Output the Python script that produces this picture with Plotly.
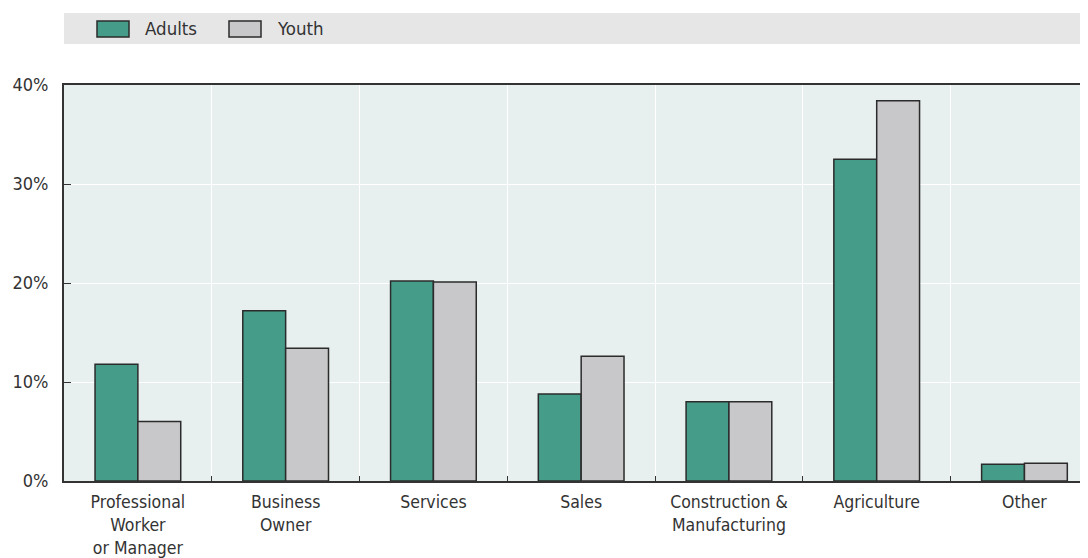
import plotly.graph_objects as go

categories = ["Professional<br>Worker<br>or Manager", "Business<br>Owner", "Services", "Sales",
              "Construction &<br>Manufacturing", "Agriculture", "Other"]
adults = [11.8, 17.2, 20.2, 8.8, 8.0, 32.5, 1.7]
youth = [6.0, 13.4, 20.1, 12.6, 8.0, 38.4, 1.8]
y_ticks = [0, 10, 20, 30, 40]
y_labels = ["0%", "10%", "20%", "30%", "40%"]

FONT = "DejaVu Sans Condensed, Liberation Sans Narrow, sans-serif"
ADULT_C = "#449C89"
YOUTH_C = "#C8C8CA"
EDGE = "#2b2b2b"

x = list(range(len(categories)))

fig = go.Figure()
fig.add_trace(go.Bar(x=x, y=adults, name="Adults", marker=dict(color=ADULT_C, line=dict(color=EDGE, width=1.5))))
fig.add_trace(go.Bar(x=x, y=youth, name="Youth", marker=dict(color=YOUTH_C, line=dict(color=EDGE, width=1.5))))

# page body has an 8px margin, so the figure is drawn 8px smaller and offset
fig.update_layout(
    width=1080, height=550,
    margin=dict(l=56, r=0, t=77, b=77, autoexpand=False),
    paper_bgcolor="white", plot_bgcolor="#E7F0EF",
    barmode="group", bargap=0.42, bargroupgap=0,
    showlegend=False,
    font=dict(family=FONT, size=18, color="#333333"),
)
fig.update_xaxes(
    range=[-0.5, 6.43], tickmode="array", tickvals=x, ticktext=categories,
    showgrid=False, ticks="", showline=True, linecolor="#333333", linewidth=2, mirror=True,
    minor=dict(tickmode="array", tickvals=[i + 0.5 for i in x[:-1]], showgrid=True,
               gridcolor="white", gridwidth=1, ticks="inside", ticklen=5, tickcolor="#333333"),
    zeroline=False, ticklabelstandoff=4, automargin=False,
    tickfont=dict(size=17.5),
)
fig.update_yaxes(
    range=[0, 40], tickmode="array", tickvals=y_ticks, ticktext=y_labels,
    showgrid=True, gridcolor="white", gridwidth=1,
    ticks="inside", ticklen=7, tickcolor="#333333",
    showline=True, linecolor="#333333", linewidth=2, zeroline=False,
    ticklabelstandoff=10, automargin=False,
)

PH, PW, PB, PL = 396, 1024, 481, 64  # plot height/width and page coords of bottom/left
fig.add_shape(type="rect", xref="paper", yref="paper", x0=0, x1=1, y0=(PB - 44) / PH, y1=(PB - 13) / PH,
              fillcolor="#E6E6E7", line=dict(width=0), layer="below")
leg = [("Adults", ADULT_C, 97), ("Youth", YOUTH_C, 229)]
for name, col, px in leg:
    fig.add_shape(type="rect", xref="paper", yref="paper",
                  x0=(px - PL) / PW, x1=(px + 32 - PL) / PW,
                  y0=(PB - 37) / PH, y1=(PB - 21) / PH,
                  fillcolor=col, line=dict(color=EDGE, width=1.5))
    fig.add_annotation(xref="paper", yref="paper", x=(px + 46 - PL) / PW, y=(PB - 29) / PH,
                       text=name, showarrow=False, xanchor="left", yanchor="middle",
                       font=dict(family=FONT, size=18.5, color="#333333"))

fig.write_html("out.html")
